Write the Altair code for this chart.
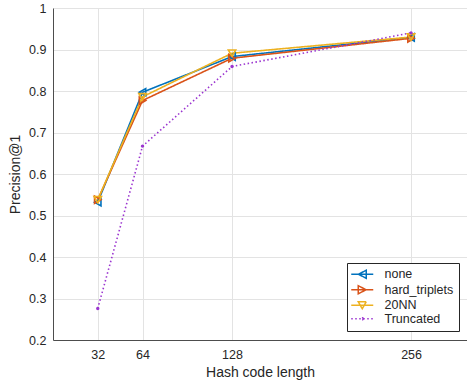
import altair as alt
import pandas as pd

# Precision@1 per hash code length for each training variant
code_lengths = [32, 64, 128, 256]
series_names = ["none", "hard_triplets", "20NN", "Truncated"]
prec_none = [0.532, 0.797, 0.883, 0.929]
prec_hard_triplets = [0.538, 0.777, 0.879, 0.927]
prec_20nn = [0.538, 0.786, 0.891, 0.930]
prec_truncated = [0.276, 0.667, 0.859, 0.940]

colors = ["#0072BD", "#D95319", "#EDB120", "#9B35D0"]
dashes = [[1, 0], [1, 0], [1, 0], [1.5, 2.5]]
plot_shapes = ["triangle-left", "triangle-right", "triangle-down", "circle"]
# legend glyphs: a short line segment with the series marker on it
legend_shapes = [
    "M-1.4,0L3,0M0,0L1.6,-0.8L1.6,0.8Z",
    "M-1.4,0L3,0M1.6,0L0,-0.8L0,0.8Z",
    "M-1.4,0L3,0M0,-0.7L1.6,-0.7L0.8,0.7Z",
    "M-1.4,0L3,0M1,0A0.2,0.2,0,1,1,0.6,0A0.2,0.2,0,1,1,1,0",
]

rows = []
for name, vals in zip(series_names,
                      [prec_none, prec_hard_triplets, prec_20nn, prec_truncated]):
    for n, v in zip(code_lengths, vals):
        rows.append({"bits": n, "precision": v, "series": name})
df = pd.DataFrame(rows)

FONT = "Liberation Sans"
TXT = "#262626"

x_enc = alt.X(
    "bits:Q",
    scale=alt.Scale(domain=[0, 296], nice=False, zero=False),
    axis=alt.Axis(values=code_lengths, title="Hash code length", grid=True,
                  tickSize=0, labelPadding=8, titlePadding=5),
)
y_enc = alt.Y(
    "precision:Q",
    scale=alt.Scale(domain=[0.2, 1.0], nice=False, zero=False),
    axis=alt.Axis(values=[0.2, 0.3, 0.4, 0.5, 0.6, 0.7, 0.8, 0.9, 1.0],
                  format="~g", title="Precision@1", grid=True,
                  tickSize=0, labelPadding=7, titlePadding=6),
)
color_plot = alt.Color("series:N", scale=alt.Scale(domain=series_names, range=colors),
                       legend=None)

lines = alt.Chart(df).mark_line(strokeWidth=1.6).encode(
    x=x_enc, y=y_enc, color=color_plot,
    strokeDash=alt.StrokeDash("series:N",
                              scale=alt.Scale(domain=series_names, range=dashes),
                              legend=None),
)
points = alt.Chart(df).mark_point(filled=False, strokeWidth=1.6, opacity=1).encode(
    x=x_enc, y=y_enc, color=color_plot,
    shape=alt.Shape("series:N",
                    scale=alt.Scale(domain=series_names, range=plot_shapes),
                    legend=None),
    size=alt.condition(alt.datum.series == "Truncated", alt.value(3), alt.value(55)),
)
data_layer = alt.layer(lines, points)

leg = alt.Legend(
    orient="none", legendX=294, legendY=255, title=None,
    strokeColor=TXT, fillColor="white", padding=5, rowPadding=0.5,
    symbolSize=100, symbolStrokeWidth=1.5, labelOffset=20,
    labelFont=FONT, labelFontSize=12.5, labelColor=TXT, cornerRadius=0,
)
legend_layer = alt.Chart(df).transform_filter("false").mark_point(
    filled=False, strokeWidth=1.5, opacity=1
).encode(
    color=alt.Color("series:N", scale=alt.Scale(domain=series_names, range=colors),
                    legend=leg),
    shape=alt.Shape("series:N", scale=alt.Scale(domain=series_names, range=legend_shapes),
                    legend=leg),
    strokeDash=alt.StrokeDash("series:N",
                              scale=alt.Scale(domain=series_names, range=dashes),
                              legend=leg),
)

chart = alt.layer(data_layer, legend_layer).resolve_scale(
    color="independent", shape="independent", strokeDash="independent"
).properties(
    width=414, height=332,
    autosize=alt.AutoSizeParams(type="none"),
    padding={"left": 53, "top": 8, "right": 0, "bottom": 43},
).configure_view(stroke=None).configure_axis(
    labelFont=FONT, labelFontSize=12.5, labelColor=TXT,
    titleFont=FONT, titleFontSize=14, titleColor=TXT, titleFontWeight="normal",
    domainColor="#4d4d4d", domainWidth=1, gridColor="#e3e3e3", gridWidth=1,
).configure_axisX(domain=True).configure_axisY(domain=True)

chart.save("out.html", embed_options={"renderer": "svg", "actions": False})
